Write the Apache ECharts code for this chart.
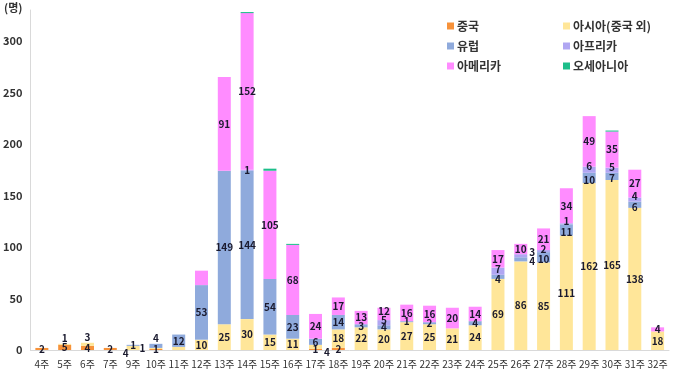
<!DOCTYPE html>
<html><head><meta charset="utf-8">
<script src="https://cdn.jsdelivr.net/npm/echarts@6/dist/echarts.min.js"></script>
<style>html,body{margin:0;padding:0;background:#fff}#c{width:680px;height:375px}</style>
</head><body><div id="c"></div>
<script>
const categories = ['4주','5주','6주','7주','9주','10주','11주','12주','13주','14주','15주','16주','17주','18주','19주','20주','21주','22주','23주','24주','25주','26주','27주','28주','29주','30주','31주','32주'];
const china    = [2,5,4,2,0,1,0,0,0,0,0,0,1,2,0,0,0,0,0,0,0,0,0,0,0,0,0,0];
const asia     = [0,1,3,0,4,1,3,10,25,30,15,11,4,18,22,20,27,25,21,24,69,86,85,111,162,165,138,18];
const europe   = [0,0,0,0,1,4,12,53,149,144,54,23,6,14,3,4,1,2,0,4,4,4,10,11,10,7,6,0];
const africa   = [0,0,0,0,0,0,0,0,0,1,0,0,0,0,0,5,0,0,0,0,7,3,2,1,6,5,4,0];
const america  = [0,0,0,0,0,0,0,14,91,152,105,68,24,17,13,12,16,16,20,14,17,10,21,34,49,35,27,4];
const oceania  = [0,0,0,0,0,0,0,0,0,1,2,1,0,0,0,0,0,0,0,0,0,0,0,0,0,1,0,0];
const seriesNames = ['중국','아시아(중국 외)','유럽','아프리카','아메리카','오세아니아'];
const yTicks = [0,50,100,150,200,250,300];

const colors = ['#F7923A','#FFE699','#8FAADC','#B0A6F2','#FF8CFF','#1DBE8A'];
const values = [china, asia, europe, africa, america, oceania];
// label overrides (styling only)
const hidden = {'1|6':1,'4|7':1};
const over = {
  '1|1':{position:'top',distance:1},
  '1|2':{position:'top',distance:1},
  '2|5':{position:'top',distance:1},
  '1|5':{position:'left',distance:4},
  '1|4':{position:'left',distance:0,offset:[2,5]},
  '1|12':{position:'right',distance:2,offset:[0,5]},
  '2|21':{position:'right',distance:2,offset:[0,2]},
  '3|21':{position:'right',distance:2,offset:[0,-4]},
  '2|20':{offset:[0,2]},
  '3|20':{offset:[0,-2]},
  '2|24':{offset:[0,2]},
  '3|24':{offset:[0,-3]},
  '2|25':{offset:[0,2]},
  '3|25':{offset:[0,-3]},
  '2|26':{offset:[0,2]},
  '3|26':{offset:[0,-3]},
  '2|22':{offset:[0,2]},
  '3|22':{offset:[0,-2]},
  '2|23':{offset:[0,2]},
  '3|23':{offset:[0,-3]},
  '3|15':{offset:[0,-2]},
  '4|15':{offset:[0,-3]}
};
const series = values.map((arr, si) => ({
  name: seriesNames[si],
  type: 'bar',
  stack: 'total',
  barWidth: 13,
  itemStyle: {color: colors[si]},
  label: {show: si < 5, position: 'inside', color: '#1a1a2e', fontWeight: 'bold', fontSize: 10, fontFamily: 'Noto Sans CJK KR'},
  data: arr.map((v, i) => {
    const key = si + '|' + i;
    const item = {value: v};
    if (v === 0 || hidden[key] || si === 5) item.label = {show: false};
    else if (over[key]) item.label = Object.assign({show: true}, over[key]);
    return item;
  })
}));

const chart = echarts.init(document.getElementById('c'));
chart.setOption({
  animation: false,
  textStyle: {fontFamily: 'Noto Sans CJK KR'},
  grid: {left: 29, right: 11, top: 10, bottom: 25},
  legend: [
    {data: [seriesNames[0], seriesNames[2], seriesNames[4]], orient: 'vertical', left: 442, top: 15, itemWidth: 7, itemHeight: 7, itemGap: 8, icon: 'rect',
     textStyle: {fontSize: 12, fontWeight: 'bold', color: '#333', padding: [0,0,0,-2]}},
    {data: [seriesNames[1], seriesNames[3], seriesNames[5]], orient: 'vertical', left: 558, top: 15, itemWidth: 7, itemHeight: 7, itemGap: 8, icon: 'rect',
     textStyle: {fontSize: 12, fontWeight: 'bold', color: '#333', padding: [0,0,0,-2]}}
  ],
  graphic: [{type: 'text', left: 4, top: 2, style: {text: '(명)', fontSize: 11, fontWeight: 'bold', fill: '#333', fontFamily: 'Noto Sans CJK KR'}}],
  xAxis: {
    type: 'category', data: categories,
    axisLine: {lineStyle: {color: '#d9d9d9'}},
    axisTick: {show: false},
    axisLabel: {color: '#333', fontSize: 10, margin: 9, interval: 0}
  },
  yAxis: {
    type: 'value', min: 0, max: 330, interval: 10,
    axisLine: {show: true, lineStyle: {color: '#d9d9d9'}},
    axisTick: {show: false},
    splitLine: {show: false},
    axisLabel: {color: '#333', fontSize: 11, fontWeight: 'bold', margin: 8,
      formatter: v => yTicks.indexOf(v) >= 0 ? String(v) : ''}
  },
  series: series
});
</script></body></html>
